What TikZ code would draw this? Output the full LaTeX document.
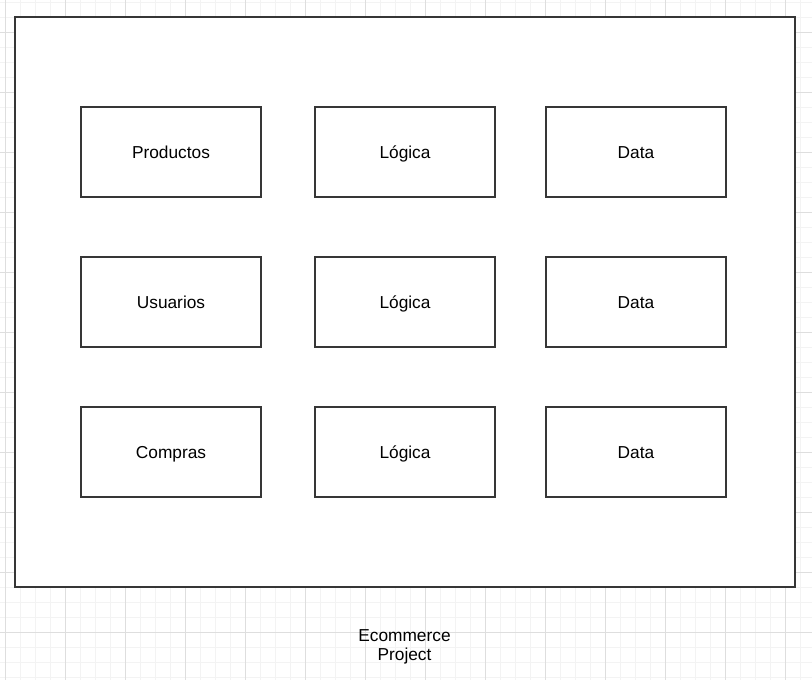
\documentclass[tikz,border=0pt]{standalone}
\usepackage{fontspec}
\setmainfont{Liberation Sans}
\usetikzlibrary{positioning}
\definecolor{linegray}{HTML}{363636}
\definecolor{minorgray}{HTML}{F3F3F3}
\definecolor{majorgray}{HTML}{DEDEDE}
\tikzset{
  x=1pt, y=-1pt,
  minorgrid/.style={draw=minorgray, line width=1pt},
  majorgrid/.style={draw=majorgray, line width=1pt},
  project/.style={draw=linegray, line width=2pt, fill=white},
  module/.style={draw=linegray, line width=2pt, fill=white,
    minimum width=180pt, minimum height=90pt, inner sep=0pt,
    text height=12.4pt, text depth=0pt,
    font=\fontsize{17.3}{19.5}\selectfont},
}

\begin{document}
\begin{tikzpicture}
		\useasboundingbox (0,0) rectangle (812,680);

		% background grid
		\begin{scope}
			\clip (0,0) rectangle (812,680);
			\begin{scope}[shift={(5,2)}]
				\draw[minorgrid, step=15pt] (-15,-15) grid (820,690);
			\end{scope}
			\begin{scope}[shift={(5,32)}]
				\draw[majorgrid, step=60pt] (-60,-60) grid (840,700);
			\end{scope}
		\end{scope}

		% container
		\draw[project] (15,17) rectangle (795,587);
		\node[align=center, inner sep=0pt,
		  font=\fontsize{17.3}{19.5}\selectfont] (title) at (404.5,647) {Ecommerce\\Project};

		% modules
		\node[module] (productos) at (171,152) {Productos};
		\node[module] (usuarios) at (171,302) {Usuarios};
		\node[module] (compras) at (171,452) {Compras};

		% logic
		\node[module] (logprod) at (405,152) {Lógica};
		\node[module] (logusu) at (405,302) {Lógica};
		\node[module] (logcomp) at (405,452) {Lógica};

		% data
		\node[module] (dataprod) at (636,152) {Data};
		\node[module] (datausu) at (636,302) {Data};
		\node[module] (datacomp) at (636,452) {Data};

	\end{tikzpicture}
\end{document}
